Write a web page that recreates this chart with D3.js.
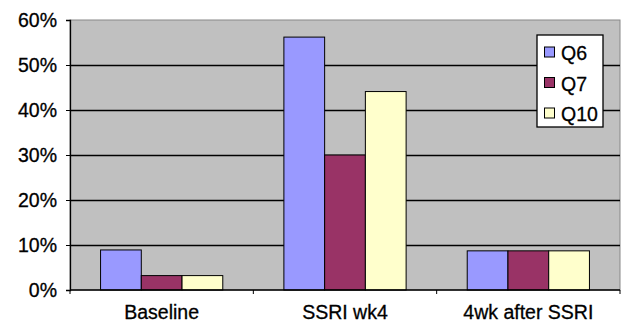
<!DOCTYPE html>
<html>
<head>
<meta charset="utf-8">
<script src="https://cdn.jsdelivr.net/npm/d3@7"></script>
<style>
  html, body { margin: 0; padding: 0; background: #fff; }
  svg { display: block; }
  text { font-family: "Liberation Sans", Arial, sans-serif; fill: #000; stroke: #000; stroke-width: 0.3px; }
</style>
</head>
<body>
<svg id="chart" width="622" height="323"></svg>
<script>
// Categories and series (percent of patients)
const categories = ["Baseline", "SSRI wk4", "4wk after SSRI"];
const seriesNames = ["Q6", "Q7", "Q10"];
const q6 = [8.9, 56.2, 8.7];
const q7 = [3.2, 30.0, 8.7];
const q10 = [3.2, 44.1, 8.7];
const yTicks = [0, 10, 20, 30, 40, 50, 60];
const seriesColors = ["#9999FF", "#993366", "#FFFFCC"];

const values = [q6, q7, q10];
const rows = categories.map((c, i) => ({
  category: c,
  bars: seriesNames.map((s, j) => ({ series: s, value: values[j][i], color: seriesColors[j] }))
}));

const svg = d3.select("#chart");
const margin = { left: 70, right: 2, top: 20, bottom: 33 };
const W = 622, H = 323;
const plotW = W - margin.left - margin.right;
const plotH = H - margin.top - margin.bottom;

const x0 = d3.scaleBand().domain(categories).range([0, plotW]).padding(0);
const x1 = d3.scaleBand().domain(seriesNames).range([0, x0.bandwidth()])
  .paddingInner(0).paddingOuter(0.75);
const y = d3.scaleLinear().domain([0, 60]).range([plotH, 0]);

const g = svg.append("g").attr("transform", `translate(${margin.left},${margin.top})`);

// Plot background
g.append("rect")
  .attr("x", 0).attr("y", 0)
  .attr("width", plotW).attr("height", plotH)
  .attr("fill", "#C0C0C0")
  .attr("stroke", "#888").attr("stroke-width", 1);

// Horizontal gridlines
g.append("g").selectAll("line")
  .data(yTicks.filter(t => t > 0 && t < 60))
  .join("line")
  .attr("x1", 0).attr("x2", plotW)
  .attr("y1", d => Math.round(y(d)) + 0.5).attr("y2", d => Math.round(y(d)) + 0.5)
  .attr("stroke", "#000").attr("stroke-width", 1.4);

// Bars
const groups = g.append("g").selectAll("g")
  .data(rows)
  .join("g")
  .attr("transform", d => `translate(${x0(d.category)},0)`);

groups.selectAll("rect")
  .data(d => d.bars)
  .join("rect")
  .attr("x", d => x1(d.series))
  .attr("y", d => y(d.value))
  .attr("width", x1.bandwidth())
  .attr("height", d => y(0) - y(d.value))
  .attr("fill", d => d.color)
  .attr("stroke", "#000").attr("stroke-width", 1);

// Y axis
const yAxis = d3.axisLeft(y).tickValues(yTicks).tickFormat(d => d + "%")
  .tickSizeInner(4).tickSizeOuter(4).tickPadding(9);
const ya = g.append("g").call(yAxis);
ya.select(".domain").attr("stroke", "#000").attr("stroke-width", 1.3);
ya.selectAll(".tick line").attr("stroke", "#000");
ya.selectAll(".tick text")
  .style("font-family", '"Liberation Sans", Arial, sans-serif')
  .style("font-size", "19.5px").attr("fill", "#000");

// X axis: tick marks at category boundaries, labels centred
const xa = g.append("g").attr("transform", `translate(0,${plotH})`);
xa.append("line").attr("x1", 0).attr("x2", plotW).attr("y1", 0).attr("y2", 0)
  .attr("stroke", "#000").attr("stroke-width", 1.3);
const boundaries = categories.map(c => x0(c)).concat([plotW]);
xa.selectAll("line.tk").data(boundaries).join("line").attr("class", "tk")
  .attr("x1", d => d).attr("x2", d => d).attr("y1", 0).attr("y2", 4)
  .attr("stroke", "#000");
xa.selectAll("text").data(categories).join("text")
  .attr("x", d => x0(d) + x0.bandwidth() / 2)
  .attr("y", 29)
  .attr("text-anchor", "middle")
  .style("font-size", "19.5px")
  .text(d => d);

// Legend
const legend = svg.append("g").attr("transform", "translate(537,35)");
legend.append("rect").attr("x", 0).attr("y", 0).attr("width", 66).attr("height", 92)
  .attr("fill", "#fff").attr("stroke", "#000").attr("stroke-width", 1.3);
const li = legend.selectAll("g.item").data(seriesNames).join("g").attr("class", "item")
  .attr("transform", (d, i) => `translate(0,${12 + i * 30.5})`);
li.append("rect").attr("x", 7.5).attr("y", 0).attr("width", 10).attr("height", 10)
  .attr("fill", (d, i) => seriesColors[i]).attr("stroke", "#000").attr("stroke-width", 1);
li.append("text").attr("x", 24).attr("y", 13).style("font-size", "19.5px").text(d => d);
</script>
</body>
</html>
